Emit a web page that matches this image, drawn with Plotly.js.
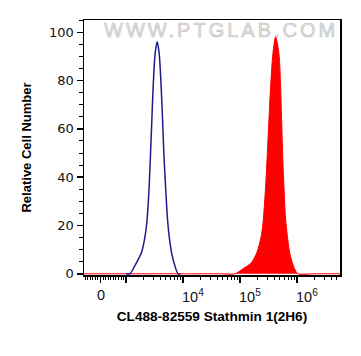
<!DOCTYPE html>
<html>
<head>
<meta charset="utf-8">
<script src="https://cdn.plot.ly/plotly-3.0.1.min.js"></script>
<style>html,body{margin:0;padding:0;background:#fff;}#chart{width:361px;height:356px;}</style>
</head>
<body>
<div id="chart"></div>
<script>
// Fluorescence intensity (raw units) and relative cell counts
const controlIntensity = [1000, 1161, 1422, 1862, 2153, 2333, 2535, 2679, 2825, 2979, 3228, 3499, 3793, 4111, 4355, 4581, 4909, 5321, 5675, 6252, 7145, 8166, 9000];
const controlCount     = [0,    0,    3.4,  8.9,  15.8, 22.7, 36.4, 50.1, 63.9, 77.6, 91.3, 96.1, 91.3, 77.6, 63.9, 50.1, 36.4, 22.7, 15.8, 8.9,  3.4,  0,    0];

const stainedIntensity = [-640, 40000, 80700, 113000, 158500, 198600, 237100, 257600, 282500, 302700, 322800, 345900, 379300, 422700, 483100, 517600, 539500, 561000, 591600, 633900, 679200, 744700, 829900, 912000, 1042000, 2000000, 5800000];
const stainedCount     = [0,    0,     0,     2.1,    4.6,    8.9,    15.8,   22.7,   36.4,   50.1,   63.9,   77.6,   91.3,   98.2,   91.3,   77.6,   63.9,   50.1,   36.4,   22.7,   15.8,   8.9,    4.6,    2.1,    0,       0,       0];

const majorTickValues = [0, 1000, 10000, 100000, 1000000];
const majorTickLabels = ["0", "", "10<sup>4</sup>", "10<sup>5</sup>", "10<sup>6</sup>"];
const minorTickValues = [-600,-500,-400,-300,-200,-100,100,200,300,400,500,600,700,800,900,
  2000,3000,4000,5000,6000,7000,8000,9000,
  20000,30000,40000,50000,60000,70000,80000,90000,
  200000,300000,400000,500000,600000,700000,800000,900000,
  2000000,3000000,4000000,5000000];
const yTickValues = [0, 20, 40, 60, 80, 100];

// biexponential-like display transform: linear below 1000, log above
const LIN_K = 0.4526;
function toDisplay(v){ return v >= 1000 ? Math.log10(v) : 3 + (v - 1000) / 1000 * LIN_K; }

const traces = [
  {
    x: stainedIntensity.map(toDisplay), y: stainedCount,
    type: 'scatter', mode: 'lines', fill: 'tozeroy',
    fillcolor: '#ff0000', line: {color: '#ff0000', width: 1, shape: 'spline', smoothing: 0.8},
    hoverinfo: 'skip'
  },
  {
    x: controlIntensity.map(toDisplay), y: controlCount,
    type: 'scatter', mode: 'lines',
    line: {color: '#1c1c8c', width: 1.5, shape: 'spline', smoothing: 0.8},
    hoverinfo: 'skip'
  }
];

const annotations = [{
  text: 'WWW.PTGLAB.COM', xref: 'paper', yref: 'paper', x: 0.535, y: 0.96,
  xanchor: 'center', yanchor: 'middle', showarrow: false,
  font: {family: 'Liberation Sans, Arial', size: 20, color: '#e4e4e4'}
}];
majorTickValues.forEach((v, i) => {
  if (!majorTickLabels[i]) return;
  const isZero = v === 0;
  annotations.push({
    text: majorTickLabels[i], xref: 'x', yref: 'paper', x: toDisplay(v), y: 0,
    xanchor: isZero ? 'center' : 'left', yanchor: 'top', xshift: isZero ? 1 : -3, yshift: -10,
    showarrow: false, font: {family: 'Liberation Sans, Arial', size: 14.5, color: '#111'}
  });
});

const layout = {
  width: 361, height: 356,
  margin: {l: 84, r: 20.5, t: 20, b: 81},
  paper_bgcolor: '#fff', plot_bgcolor: '#fff',
  showlegend: false,
  xaxis: {
    range: [2.258, 6.758], showgrid: false, zeroline: false,
    showline: true, linecolor: '#000', linewidth: 1.5, mirror: true,
    tickmode: 'array', tickvals: majorTickValues.map(toDisplay), showticklabels: false,
    ticks: 'outside', ticklen: 6, tickwidth: 1.5, tickcolor: '#000',
    minor: {tickmode: 'array', tickvals: minorTickValues.map(toDisplay), ticks: 'outside', ticklen: 3.5, tickwidth: 1, tickcolor: '#000', showgrid: false},
    title: {text: '<b>CL488-82559 Stathmin 1(2H6)</b>', font: {family: 'Liberation Sans, Arial', size: 13.6, color: '#000'}, standoff: 30},
    automargin: false, fixedrange: true
  },
  yaxis: {
    range: [-0.5, 105.1], showgrid: false, zeroline: false,
    showline: true, linecolor: '#000', linewidth: 1.5, mirror: true,
    tickmode: 'array', tickvals: yTickValues,
    ticks: 'outside', ticklen: 6, tickwidth: 1.5, tickcolor: '#000',
    minor: {dtick: 5, ticks: 'outside', ticklen: 3.5, tickwidth: 1, tickcolor: '#000', showgrid: false},
    tickfont: {family: 'DejaVu Sans', size: 13, color: '#111'},
    title: {text: '<b>Relative Cell Number</b>', font: {family: 'Liberation Sans, Arial', size: 13, color: '#000'}, standoff: 14},
    automargin: false, fixedrange: true
  },
  annotations: annotations
};

Plotly.newPlot('chart', traces, layout, {staticPlot: true, displayModeBar: false}).then(gd => {
  const wm = gd.querySelector('.annotation[data-index="0"] .annotation-text');
  if (wm) {
    wm.style.letterSpacing = '3px';
    wm.style.stroke = '#bdbdbd';
    wm.style.strokeWidth = '0.6px';
  }
});
</script>
</body>
</html>
